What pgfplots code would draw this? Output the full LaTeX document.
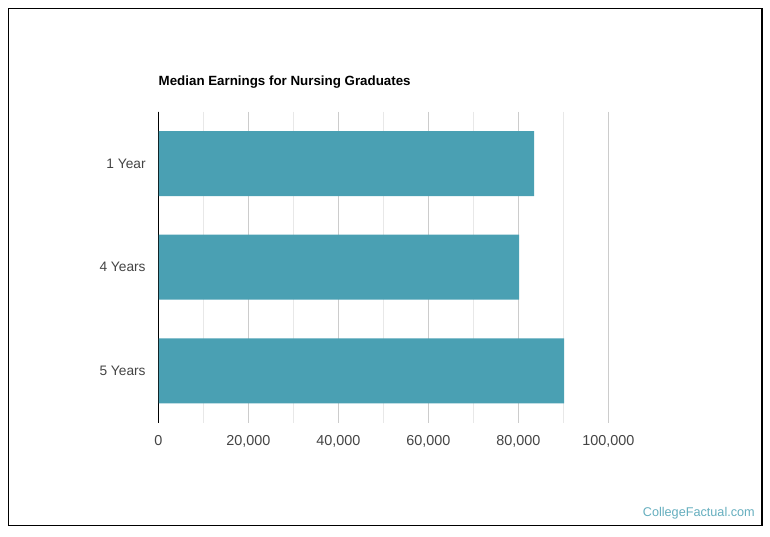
\documentclass[border=0pt]{standalone}
\usepackage{pgfplots}
\pgfplotsset{compat=1.18}
\usepackage{fontspec}
\setmainfont{Liberation Sans}

\definecolor{barteal}{HTML}{4AA0B3}
\definecolor{majgrid}{HTML}{CCCCCC}
\definecolor{mingrid}{HTML}{E8E8E8}
\definecolor{ticktext}{HTML}{444444}

\begin{document}
\begin{tikzpicture}[x=0.75pt,y=0.75pt]
  % page: 770 x 536 px, 1px = 0.75pt
  \useasboundingbox (0,0) rectangle (770,536);
  \draw[line width=1.1pt,black] (8.5,536-8.5) rectangle (762,536-525.5);

  \node[anchor=west,font=\bfseries\fontsize{10}{12}\selectfont] at (154,536-82) {Median Earnings for Nursing Graduates};
  \node[anchor=east,text=barteal!85!white,font=\fontsize{9.5}{11}\selectfont] at (759.5,536-513) {CollegeFactual.com};

  \begin{axis}[
      at={(118.725pt,318.225pt)}, anchor=north west,
      scale only axis,
      width=337.5pt, height=233.25pt,
      xbar, bar width=48.75pt,
      xmin=0, xmax=100000,
      ymin=-0.5, ymax=2.5, y dir=reverse,
      ytick={0,1,2},
      yticklabels={1 Year, 4 Years, 5 Years},
      xtick={0,20000,40000,60000,80000,100000},
      xticklabels={0, {20,000}, {40,000}, {60,000}, {80,000}, {100,000}},
      scaled x ticks=false,
      minor xtick={10000,30000,50000,70000,90000},
      xmajorgrids, xminorgrids,
      major grid style={majgrid, line width=0.6pt},
      minor grid style={mingrid, line width=0.6pt},
      major tick length=0pt, minor tick length=0pt,
      axis lines*=left,
      x axis line style={draw=none},
      y axis line style={black, line width=0.8pt},
      tick label style={text=ticktext},
      xticklabel style={yshift=-6pt, font=\fontsize{10.8}{12}\selectfont},
      yticklabel style={xshift=-6pt, font=\fontsize{10.3}{12}\selectfont},
    ]
    \addplot[fill=barteal, draw=none] coordinates {(83500,0) (80200,1) (90200,2)};
    \draw[black, line width=0.8pt] (axis cs:0,-0.5) -- (axis cs:0,2.5);
  \end{axis}
\end{tikzpicture}
\end{document}
